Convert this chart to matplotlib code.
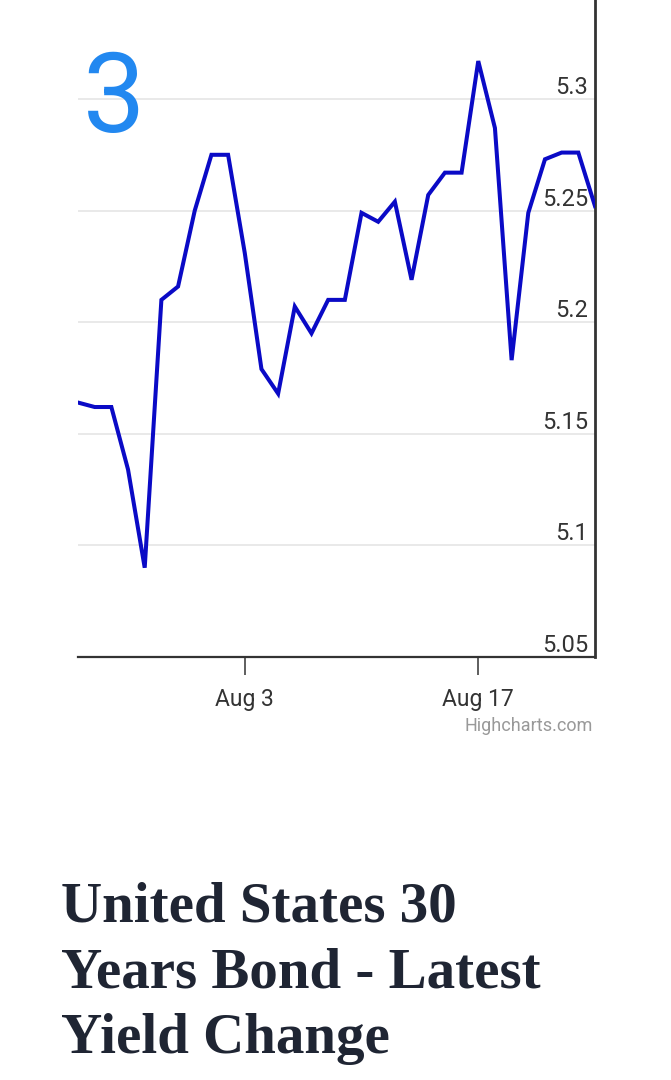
import datetime as dt
import matplotlib
matplotlib.use('Agg')
import matplotlib.pyplot as plt
import matplotlib.dates as mdates
import matplotlib.transforms as mtransforms

# data
start = dt.date(2023, 7, 24)
yields = [5.164, 5.162, 5.162, 5.134, 5.090, 5.210, 5.216, 5.250, 5.275, 5.275,
          5.231, 5.179, 5.168, 5.207, 5.195, 5.210, 5.210, 5.249, 5.245, 5.254,
          5.219, 5.257, 5.267, 5.267, 5.317, 5.287, 5.183, 5.249, 5.273, 5.276,
          5.276, 5.252]
dates = [start + dt.timedelta(days=i) for i in range(len(yields))]
yTicks = [5.05, 5.1, 5.15, 5.2, 5.25, 5.3]
xTicks = [dt.date(2023, 8, 3), dt.date(2023, 8, 17)]
badge = '3'
titleLines = ['United States 30', 'Years Bond - Latest', 'Yield Change']
credit = 'Highcharts.com'

W, H = 671, 1080
fig = plt.figure(figsize=(W / 100, H / 100), dpi=100)
fig.patch.set_facecolor('white')

# plot box in pixels: x 78..595, y 0..657
ax = fig.add_axes([78 / W, (H - 657) / H, (595 - 78) / W, 657 / H])
ax.plot(dates, yields, color='#0a0ac6', linewidth=2.9, solid_joinstyle='miter', zorder=3)
ax.set_xlim(dates[0], dates[-1])
ax.set_ylim(5.05, 5.3 + 99 / 2232)

ax.set_yticks(yTicks)
ax.grid(axis='y', color='#e3e3e3', linewidth=1.1)
ax.tick_params(axis='y', length=0, labelleft=False)
ax.set_xticks(xTicks)
ax.xaxis.set_major_formatter(mdates.DateFormatter('%b %-d'))
ax.tick_params(axis='x', direction='out', length=13, width=1.1, color='#333333',
               pad=9, labelsize=16.5, labelcolor='#333333')
for lab in ax.get_xticklabels():
    lab.set_fontfamily('Roboto')

for side in ['left', 'top']:
    ax.spines[side].set_visible(False)
ax.spines['bottom'].set_color('#333333')
ax.spines['bottom'].set_linewidth(1.6)
ax.spines['right'].set_color('#333333')
ax.spines['right'].set_linewidth(2.0)

# y labels sit inside the plot, just above their grid lines
lblTrans = mtransforms.offset_copy(ax.get_yaxis_transform(), fig=fig, x=0, y=5, units='dots')
for v in yTicks:
    ax.text((588 - 78) / (595 - 78), v, '{:g}'.format(v), transform=lblTrans,
            ha='right', va='baseline', fontsize=17, color='#333333', family='Roboto')

fig.text(83 / W, 1 - 132 / H, badge, ha='left', va='baseline', fontsize=80,
         color='#2288f0', family='Roboto')

fig.text(593 / W, 1 - 731 / H, credit, ha='right', va='baseline', fontsize=13,
         color='#999999', family='Roboto')

for i, line in enumerate(titleLines):
    fig.text(61 / W, 1 - (922 + 65.5 * i) / H, line, ha='left', va='baseline',
             fontsize=41, fontweight='bold', color='#1f2533', family='Liberation Serif')

fig.savefig('out.png', dpi=100, facecolor='white')
